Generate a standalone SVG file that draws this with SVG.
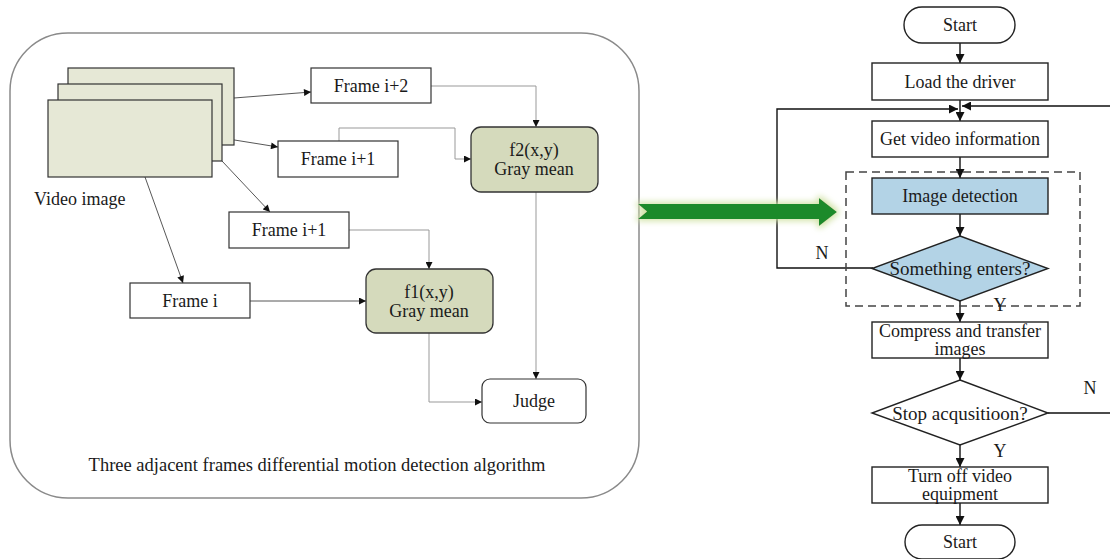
<svg xmlns="http://www.w3.org/2000/svg" width="1110" height="559" viewBox="0 0 1110 559">
<style>
text{font-family:"Liberation Serif","Times New Roman",serif;fill:#1a1a1a;font-size:18px;text-anchor:middle;dominant-baseline:central}
.box{fill:#fff;stroke:#333;stroke-width:1.2}
.vid{fill:#e6e8d6;stroke:#333;stroke-width:1.2}
.gm{fill:#d5dabc;stroke:#333;stroke-width:1.3}
.thin{fill:none;stroke:#444;stroke-width:0.9}
.gray{fill:none;stroke:#999;stroke-width:1}
.fc{fill:none;stroke:#111;stroke-width:1.4}
.fbox{fill:#fff;stroke:#222;stroke-width:1.4}
.blue{fill:#b3d3e6;stroke:#222;stroke-width:1.4}
</style>
<defs>
<marker id="a" viewBox="0 0 10 10" refX="10" refY="5" markerWidth="8" markerHeight="7" markerUnits="userSpaceOnUse" orient="auto"><path d="M0,0L10,5L0,10z" fill="#111"/></marker>
<marker id="b" viewBox="0 0 10 10" refX="10" refY="5" markerWidth="10" markerHeight="9" markerUnits="userSpaceOnUse" orient="auto"><path d="M0,0L10,5L0,10z" fill="#111"/></marker>
<filter id="g2" x="-10%" y="-80%" width="120%" height="260%"><feMorphology in="SourceAlpha" operator="dilate" radius="2" result="d"/><feGaussianBlur in="d" stdDeviation="3" result="b"/><feFlood flood-color="#d2e3a8"/><feComposite operator="in" in2="b" result="g"/><feMerge><feMergeNode in="g"/><feMergeNode in="SourceGraphic"/></feMerge></filter>
</defs>

<g id="container"><rect x="10" y="33" width="629" height="465" rx="58" ry="58" fill="#fff" stroke="#8a8a8a" stroke-width="1.5"/></g>

<g id="connectors">
<line class="thin" x1="234" y1="98" x2="311" y2="92" marker-end="url(#a)"/>
<line class="thin" x1="222" y1="138" x2="278" y2="147" marker-end="url(#a)"/>
<line class="thin" x1="222" y1="161" x2="270" y2="212" marker-end="url(#a)"/>
<line class="thin" x1="145" y1="177" x2="183" y2="283" marker-end="url(#a)"/>
<polyline class="gray" points="431,86 536,86 536,127" marker-end="url(#a)"/>
<polyline class="gray" points="339,141 339,128 455,128 455,159 471,159" marker-end="url(#a)"/>
<polyline class="gray" points="349,230 429,230 429,269" marker-end="url(#a)"/>
<line class="thin" x1="250" y1="301" x2="366" y2="301" marker-end="url(#a)"/>
<line class="gray" x1="536" y1="192" x2="536" y2="379" marker-end="url(#a)"/>
<polyline class="gray" points="429,333 429,402 482,402" marker-end="url(#a)"/>

<line class="fc" x1="960" y1="43" x2="960" y2="63" marker-end="url(#b)"/>
<line class="fc" x1="960" y1="100" x2="960" y2="121" marker-end="url(#b)"/>
<polyline class="fc" points="873,268 777,268 777,109 958,109" marker-end="url(#b)"/>
<polyline class="fc" points="1048,413 1112,413 1112,106 962,106" marker-end="url(#b)"/>
<line class="fc" x1="960" y1="157" x2="960" y2="178" marker-end="url(#b)"/>
<line class="fc" x1="960" y1="214" x2="960" y2="236" marker-end="url(#b)"/>
<line class="fc" x1="960" y1="301" x2="960" y2="322" marker-end="url(#b)"/>
<line class="fc" x1="960" y1="358" x2="960" y2="380" marker-end="url(#b)"/>
<line class="fc" x1="960" y1="445" x2="960" y2="467" marker-end="url(#b)"/>
<line class="fc" x1="960" y1="503" x2="960" y2="525" marker-end="url(#b)"/>
</g>

<g id="video-image">
<rect class="vid" x="68" y="68" width="166" height="77"/>
<rect class="vid" x="58" y="84" width="164" height="77"/>
<rect class="vid" x="48" y="100" width="164" height="77"/>
<text x="34" y="199" style="text-anchor:start">Video image</text>
</g>
<g id="frame-i2"><rect class="box" x="311" y="68" width="120" height="35"/><text x="371" y="86">Frame i+2</text></g>
<g id="frame-i1a"><rect class="box" x="278" y="141" width="120" height="36"/><text x="338" y="159">Frame i+1</text></g>
<g id="frame-i1b"><rect class="box" x="229" y="212" width="120" height="36"/><text x="289" y="230">Frame i+1</text></g>
<g id="frame-i"><rect class="box" x="130" y="283" width="120" height="35"/><text x="190" y="301">Frame i</text></g>
<g id="f2"><rect class="gm" x="471" y="127" width="127" height="65" rx="10"/><text x="534" y="150">f2(x,y)</text><text x="534" y="169">Gray mean</text></g>
<g id="f1"><rect class="gm" x="366" y="269" width="127" height="64" rx="10"/><text x="429" y="292">f1(x,y)</text><text x="429" y="311">Gray mean</text></g>
<g id="judge"><rect class="box" x="482" y="379" width="104" height="44" rx="8"/><text x="534" y="401">Judge</text></g>
<g id="caption"><text x="317" y="465" style="font-size:18.5px">Three adjacent frames differential motion detection algorithm</text></g>

<g id="green-arrow"><path d="M638,204 L819,204 L819,198 L837,212 L819,226 L819,219 L638,219 L647,211.5 Z" fill="#1c8a2c" filter="url(#g2)"/></g>

<g id="start"><rect class="fbox" x="904" y="7" width="111" height="36" rx="18"/><text x="960" y="25">Start</text></g>
<g id="load"><rect class="fbox" x="872" y="63" width="176" height="37"/><text x="960" y="82">Load the driver</text></g>
<g id="getvideo"><rect class="fbox" x="872" y="121" width="176" height="36"/><text x="960" y="139">Get video information</text></g>
<g id="detect-area"><rect x="846" y="172" width="234" height="134" fill="none" stroke="#444" stroke-width="1.5" stroke-dasharray="8,5"/></g>
<g id="imgdetect"><rect class="blue" x="872" y="178" width="176" height="36"/><text x="960" y="196">Image detection</text></g>
<g id="enters"><polygon class="blue" points="960,236 1048,268.5 960,301 872,268.5"/><text x="960" y="268.5" style="font-size:19px">Something enters?</text></g>
<text x="822" y="253">N</text>
<text x="1000" y="305">Y</text>
<g id="compress"><rect class="fbox" x="872" y="322" width="176" height="36"/><text x="960" y="331">Compress and transfer</text><text x="960" y="349">images</text></g>
<g id="stop"><polygon class="fbox" points="960,380 1048,413 960,445 872,413"/><text x="960" y="413" style="font-size:19px">Stop acqusitioon?</text></g>
<text x="1090" y="388">N</text>
<text x="1000" y="451">Y</text>
<g id="turnoff"><rect class="fbox" x="872" y="467" width="176" height="36"/><text x="960" y="476">Turn off video</text><text x="960" y="494">equipment</text></g>
<g id="end"><rect class="fbox" x="905" y="525" width="110" height="34" rx="17"/><text x="960" y="542">Start</text></g>
</svg>
